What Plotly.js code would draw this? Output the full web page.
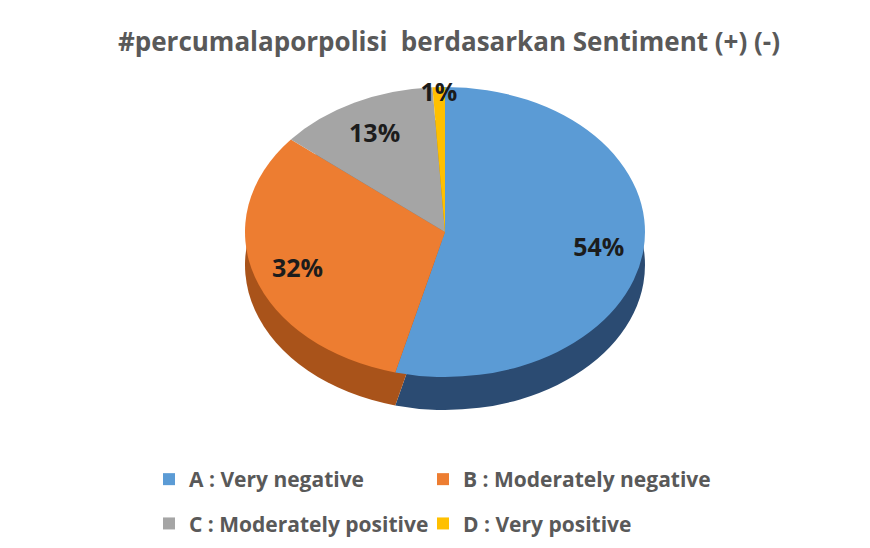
<!DOCTYPE html>
<html>
<head>
<meta charset="utf-8">
<script src="https://cdn.plot.ly/plotly-3.0.1.min.js"></script>
<style>
  html, body { margin: 0; padding: 0; background: #ffffff; }
  #chart { width: 870px; height: 548px; }
</style>
</head>
<body>
<div id="chart"></div>
<script>
// ---- data ----
const categories = ["A : Very negative", "B : Moderately negative", "C : Moderately positive", "D : Very positive"];
const shares = [54, 32, 13, 1];
const topColors = ["#5b9bd5", "#ed7d31", "#a5a5a5", "#ffc000"];
const sideColors = ["#2b4b72", "#a9531a", "#6e6e6e", "#b38700"];
const chartTitle = "#percumalaporpolisi  berdasarkan Sentiment (+) (-)";

const W = 870, H = 548;
const ML = 85, MR = 85;            // side margins (also bound the legend width)
const PW = W - ML - MR;
const FONT = "'Open Sans', Lato, sans-serif";
const squash = 0.725;   // vertical flattening of the pie (3D tilt look)
const depth = 33;       // thickness of the pie side, px
const legendRowExtra = 14; // extra spacing between legend rows, px

const domX = [(245 - ML) / PW, (645 - ML) / PW];
const domY = [1 - 432 / H, 1 - 32 / H];

const common = {
  type: "pie",
  labels: categories,
  values: shares,
  sort: false,
  direction: "clockwise",
  rotation: 0
};

// dark side of the 3D pie (drawn under, shifted down)
const sideTrace = Object.assign({}, common, {
  marker: { colors: sideColors, line: { width: 0 } },
  textinfo: "none",
  hoverinfo: "skip",
  showlegend: false,
  domain: { x: domX, y: [domY[0] - depth / H, domY[1] - depth / H] }
});

// coloured top face
const faceTrace = Object.assign({}, common, {
  marker: { colors: topColors, line: { width: 0 } },
  textinfo: "none",
  hoverinfo: "label+percent",
  domain: { x: domX, y: domY }
});

// transparent ring carrying the percentage labels towards the rim
const labelTrace = Object.assign({}, common, {
  hole: 0.55,
  marker: { colors: ["rgba(0,0,0,0)", "rgba(0,0,0,0)", "rgba(0,0,0,0)", "rgba(0,0,0,0)"], line: { width: 0 } },
  texttemplate: "%{value}%",
  textposition: "inside",
  insidetextorientation: "horizontal",
  textfont: { family: FONT, size: 25, color: "#1c1c1c", weight: "bold" },
  hoverinfo: "skip",
  showlegend: false,
  domain: { x: domX, y: domY }
});

const layout = {
  width: W, height: H,
  margin: { l: ML, r: MR, t: 0, b: 0, autoexpand: false },
  paper_bgcolor: "#ffffff",
  plot_bgcolor: "#ffffff",
  title: {
    text: chartTitle,
    font: { family: FONT, size: 26, color: "#595959", weight: "bold" },
    x: 449 / W, xanchor: "center", xref: "container",
    y: 1 - 42 / H, yanchor: "middle", yref: "container"
  },
  uniformtext: { mode: "show", minsize: 25 },
  showlegend: true,
  legend: {
    orientation: "h",
    x: 0.5 - 12 / PW, xanchor: "center",
    y: 1 - 459 / H, yanchor: "top",
    entrywidth: 229, entrywidthmode: "pixels",
    font: { family: FONT, size: 21, color: "#595959", weight: "bold" },
    itemclick: false, itemdoubleclick: false,
    traceorder: "normal"
  }
};

Plotly.newPlot("chart", [sideTrace, faceTrace, labelTrace], layout, { displayModeBar: false, staticPlot: true }).then(function (gd) {
  // flatten the pies into ellipses, keeping the label glyphs upright and unsquashed
  const traces = gd.querySelectorAll(".pielayer .trace");
  traces.forEach(function (g, i) {
    const cy = gd.calcdata[i][0].cy;
    g.setAttribute("transform", "translate(0," + (cy * (1 - squash)) + ") scale(1," + squash + ")");
    g.querySelectorAll("text.slicetext").forEach(function (t) {
      const bb = t.getBBox();
      const X = bb.x + bb.width / 2, Y = bb.y + bb.height / 2;
      const old = t.getAttribute("transform") || "";
      t.setAttribute("transform", old + " translate(" + X + "," + Y + ") scale(1," + (1 / squash) + ") translate(" + (-X) + "," + (-Y) + ")");
    });
  });
  // widen the gap between the two legend rows
  const sb = gd.querySelector(".legend .scrollbox");
  if (sb) sb.removeAttribute("clip-path");
  const items = Array.from(gd.querySelectorAll(".legend .traces"));
  const parse = function (el) {
    const m = /translate\(\s*([-\d.e]+)[ ,]+([-\d.e]+)\s*\)/.exec(el.getAttribute("transform") || "");
    return m ? [parseFloat(m[1]), parseFloat(m[2])] : [0, 0];
  };
  const ys = items.map(function (el) { return parse(el)[1]; });
  const minY = Math.min.apply(null, ys);
  items.forEach(function (el, k) {
    const p = parse(el);
    if (ys[k] > minY + 2) el.setAttribute("transform", "translate(" + p[0] + "," + (p[1] + legendRowExtra) + ")");
  });
});
</script>
</body>
</html>
